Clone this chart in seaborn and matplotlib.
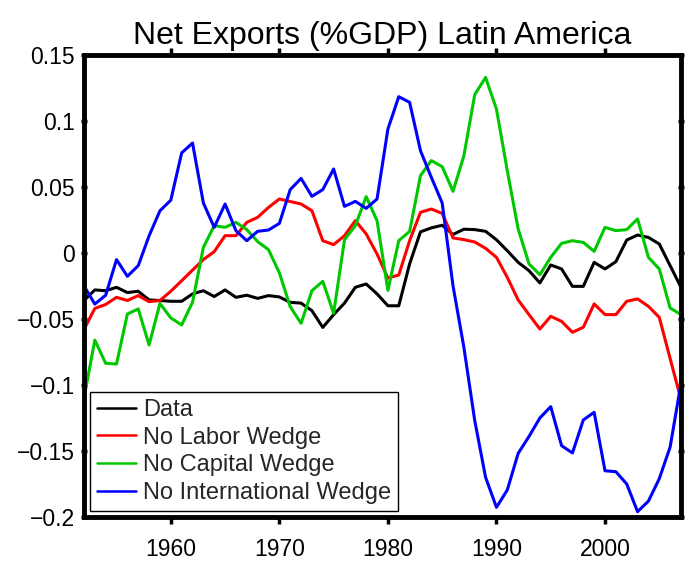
import numpy as np
import pandas as pd
import matplotlib
matplotlib.use("Agg")
import matplotlib.pyplot as plt
import seaborn as sns

years = list(range(1952, 2008))

data = [-0.036, -0.028, -0.0286, -0.026, -0.030, -0.029, -0.0356, -0.036, -0.0366, -0.0366,
        -0.031, -0.0286, -0.033, -0.028, -0.0336, -0.032, -0.0344, -0.0323, -0.0333, -0.0374,
        -0.038, -0.0437, -0.0564, -0.0467, -0.038, -0.026, -0.0235, -0.031, -0.040, -0.040,
        -0.0083, 0.016, 0.019, 0.021, 0.014, 0.018, 0.0177, 0.0164, 0.010, 0.0017,
        -0.0071, -0.0134, -0.0227, -0.0091, -0.0121, -0.0253, -0.0253, -0.0071, -0.0121, -0.0066,
        0.0098, 0.0136, 0.0118, 0.0068, -0.0096, -0.026]

no_labor = [-0.058, -0.042, -0.039, -0.0336, -0.036, -0.0323, -0.0369, -0.036, -0.029, -0.021,
            -0.013, -0.005, 0.001, 0.0131, 0.0131, 0.0232, 0.027, 0.0345, 0.0409, 0.039,
            0.0371, 0.032, 0.0093, 0.0063, 0.0131, 0.0245, 0.0144, -0.0008, -0.019, -0.0167,
            0.0093, 0.0308, 0.0333, 0.030, 0.0114, 0.0101, 0.0083, 0.0035, -0.0033, -0.0185,
            -0.0356, -0.0467, -0.0576, -0.048, -0.0518, -0.0601, -0.0563, -0.0386, -0.0467, -0.0467,
            -0.0366, -0.0348, -0.0404, -0.0488, -0.080, -0.111]

no_capital = [-0.110, -0.066, -0.0836, -0.0841, -0.0462, -0.0424, -0.0697, -0.0382, -0.0492, -0.0545,
              -0.0374, 0.0042, 0.0207, 0.0194, 0.0232, 0.0177, 0.0086, 0.0025, -0.015, -0.0407,
              -0.0533, -0.0286, -0.0215, -0.0457, 0.010, 0.0207, 0.0427, 0.0245, -0.0283, 0.0093,
              0.0163, 0.0586, 0.070, 0.0654, 0.0467, 0.0737, 0.120, 0.133, 0.109, 0.0623,
              0.0182, -0.0083, -0.0165, -0.0033, 0.0073, 0.0093, 0.008, 0.0012, 0.0194, 0.0169,
              0.0177, 0.0258, -0.0033, -0.0121, -0.0417, -0.0467]

no_international = [-0.025, -0.0387, -0.032, -0.005, -0.0177, -0.0096, 0.013, 0.032, 0.040, 0.0758,
                    0.0833, 0.0379, 0.0194, 0.0371, 0.0169, 0.0093, 0.0164, 0.0174, 0.0224, 0.048,
                    0.0565, 0.0429, 0.048, 0.0636, 0.0353, 0.0391, 0.0338, 0.0409, 0.0939, 0.1184,
                    0.1141, 0.0775, 0.0573, 0.0379, -0.025, -0.0715, -0.127, -0.170, -0.1927, -0.1795,
                    -0.1518, -0.139, -0.125, -0.1164, -0.146, -0.1515, -0.1265, -0.1207, -0.165, -0.1657,
                    -0.175, -0.196, -0.188, -0.171, -0.147, -0.0988]

series_names = ["Data", "No Labor Wedge", "No Capital Wedge", "No International Wedge"]
colors = ["#000000", "#ff0000", "#00c800", "#0000ff"]
x_ticks = [1960, 1970, 1980, 1990, 2000]
y_ticks = [-0.2, -0.15, -0.1, -0.05, 0, 0.05, 0.1, 0.15]
y_tick_labels = ["\u22120.2", "\u22120.15", "\u22120.1", "\u22120.05", "0", "0.05", "0.1", "0.15"]

frames = []
for name, vals in zip(series_names, [data, no_labor, no_capital, no_international]):
    frames.append(pd.DataFrame({"year": years, "value": vals, "series": name}))
df = pd.concat(frames, ignore_index=True)

sns.set_theme(style="white")
plt.rcParams["font.family"] = ["Liberation Sans", "DejaVu Sans"]

fig = plt.figure(figsize=(6.86, 5.65), dpi=100)
ax = fig.add_axes([0.1224, 0.085, 0.8703, 0.8177])

sns.lineplot(data=df, x="year", y="value", hue="series", hue_order=series_names,
             palette=colors, linewidth=2.2, ax=ax, legend=True)

ax.set_xlim(1952, 2007)
ax.set_ylim(-0.2, 0.15)
ax.set_xticks(x_ticks)
ax.set_xticklabels([str(t) for t in x_ticks])
ax.set_yticks(y_ticks)
ax.set_yticklabels(y_tick_labels)
ax.set_xlabel("")
ax.set_ylabel("")
ax.set_title("Net Exports (%GDP) Latin America", fontsize=23, pad=8, color="black")

for s in ax.spines.values():
    s.set_color("black")
    s.set_linewidth(3.5)
    s.set_visible(True)

ax.tick_params(axis="both", which="major", direction="out", length=5, width=2.5,
               labelsize=16.5, colors="black", pad=4,
               bottom=True, left=True, top=True, right=False)
ax.tick_params(axis="x", pad=10)
ax.tick_params(axis="y", right=True, direction="inout")

handles, labels = ax.get_legend_handles_labels()
leg = ax.legend(handles, labels, loc="lower left", fontsize=17, frameon=True,
                fancybox=False, framealpha=1, edgecolor="black", borderaxespad=0.25,
                handlelength=1.65, handletextpad=0.3, labelspacing=0.24, borderpad=0.3)
leg.get_frame().set_linewidth(1.0)
for line in leg.get_lines():
    line.set_linewidth(1.8)

fig.savefig("out.png", dpi=100)
